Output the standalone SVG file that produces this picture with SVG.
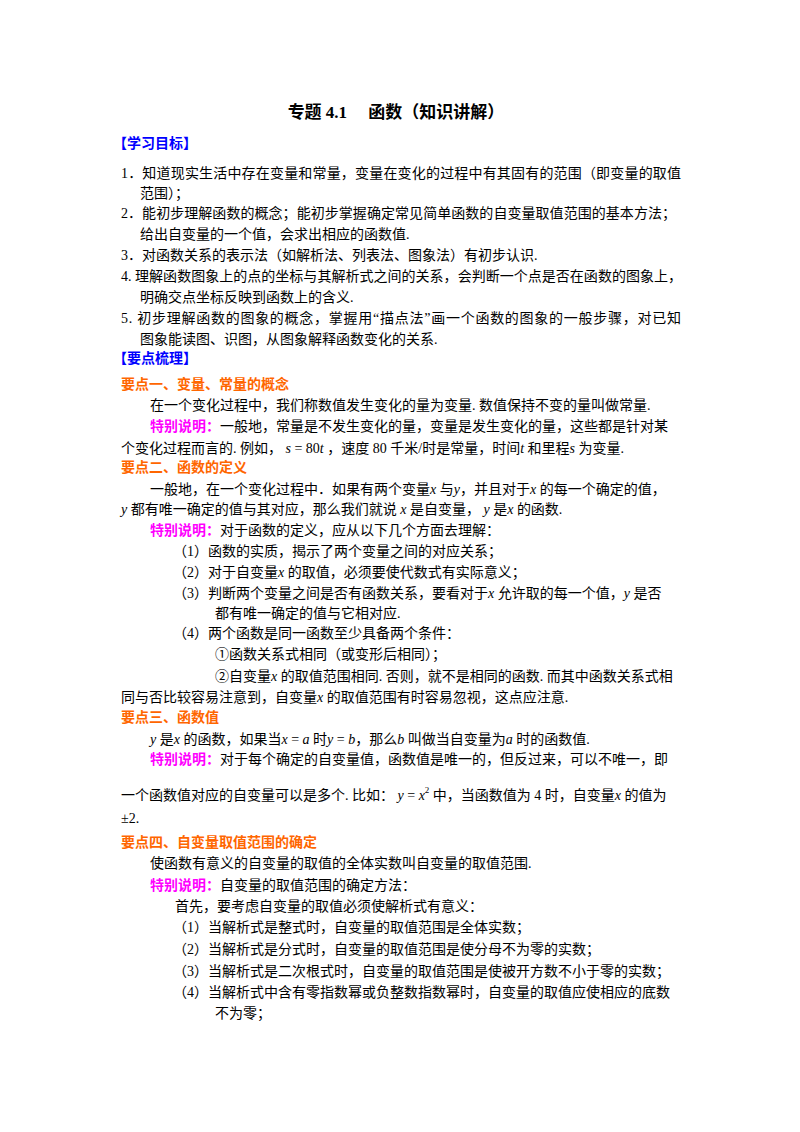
<svg xmlns="http://www.w3.org/2000/svg" width="800" height="1132" viewBox="0 0 800 1132">
<style>
text{font-family:"Liberation Serif","Noto Sans CJK SC",serif;font-size:14px;fill:#000}
.t{font-size:17px;font-weight:bold}
.b{fill:#0000FF;font-weight:bold}
.o{fill:#FF6600;font-weight:bold}
.m{fill:#FF00FF;font-weight:bold}
.i{font-style:italic;font-family:"Liberation Serif",serif}
</style>
<rect width="800" height="1132" fill="#fff"/>
<text class="t" x="396" y="118" text-anchor="middle">专题 4.1　 函数（知识讲解）</text>
<text class="b" x="113" y="148">【学习目标】</text>
<text x="121" y="178" textLength="560">1．知道现实生活中存在变量和常量，变量在变化的过程中有其固有的范围（即变量的取值</text>
<text x="140" y="198">范围）；</text>
<text x="121" y="218" textLength="555">2．能初步理解函数的概念；能初步掌握确定常见简单函数的自变量取值范围的基本方法；</text>
<text x="140" y="239">给出自变量的一个值，会求出相应的函数值.</text>
<text x="121" y="260">3．对函数关系的表示法（如解析法、列表法、图象法）有初步认识.</text>
<text x="121" y="281" textLength="561">4.  理解函数图象上的点的坐标与其解析式之间的关系，会判断一个点是否在函数的图象上，</text>
<text x="140" y="302">明确交点坐标反映到函数上的含义.</text>
<text x="121" y="323" textLength="560">5.  初步理解函数的图象的概念，掌握用“描点法”画一个函数的图象的一般步骤，对已知</text>
<text x="140" y="344">图象能读图、识图，从图象解释函数变化的关系.</text>
<text class="b" x="113" y="363">【要点梳理】</text>
<text class="o" x="121" y="389">要点一、变量、常量的概念</text>
<text x="150" y="410">在一个变化过程中，我们称数值发生变化的量为变量. 数值保持不变的量叫做常量.</text>
<text x="150" y="431"><tspan class="m">特别说明：</tspan>一般地，常量是不发生变化的量，变量是发生变化的量，这些都是针对某</text>
<text x="121" y="453">个变化过程而言的. 例如， <tspan class="i">s</tspan> = 80<tspan class="i">t</tspan> ，速度 80 千米/时是常量，时间<tspan class="i">t</tspan> 和里程<tspan class="i">s</tspan> 为变量.</text>
<text class="o" x="121" y="472">要点二、函数的定义</text>
<text x="150" y="494">一般地，在一个变化过程中．如果有两个变量<tspan class="i">x</tspan> 与<tspan class="i">y</tspan>，并且对于<tspan class="i">x</tspan> 的每一个确定的值，</text>
<text x="121" y="514"><tspan class="i">y</tspan> 都有唯一确定的值与其对应，那么我们就说 <tspan class="i">x</tspan> 是自变量， <tspan class="i">y</tspan> 是<tspan class="i">x</tspan> 的函数.</text>
<text x="150" y="535"><tspan class="m">特别说明：</tspan>对于函数的定义，应从以下几个方面去理解：</text>
<text x="173" y="556">（1）函数的实质，揭示了两个变量之间的对应关系；</text>
<text x="173" y="577">（2）对于自变量<tspan class="i">x</tspan> 的取值，必须要使代数式有实际意义；</text>
<text x="173" y="598">（3）判断两个变量之间是否有函数关系，要看对于<tspan class="i">x</tspan> 允许取的每一个值，<tspan class="i">y</tspan> 是否</text>
<text x="215" y="618">都有唯一确定的值与它相对应.</text>
<text x="173" y="638">（4）两个函数是同一函数至少具备两个条件：</text>
<text x="215" y="659">①函数关系式相同（或变形后相同）；</text>
<text x="215" y="681">②自变量<tspan class="i">x</tspan> 的取值范围相同. 否则，就不是相同的函数. 而其中函数关系式相</text>
<text x="121" y="702">同与否比较容易注意到，自变量<tspan class="i">x</tspan> 的取值范围有时容易忽视，这点应注意.</text>
<text class="o" x="121" y="722">要点三、函数值</text>
<text x="150" y="744"><tspan class="i">y</tspan> 是<tspan class="i">x</tspan> 的函数，如果当<tspan class="i">x</tspan> = <tspan class="i">a</tspan> 时<tspan class="i">y</tspan> = <tspan class="i">b</tspan>，那么<tspan class="i">b</tspan> 叫做当自变量为<tspan class="i">a</tspan> 时的函数值.</text>
<text x="150" y="764"><tspan class="m">特别说明：</tspan>对于每个确定的自变量值，函数值是唯一的，但反过来，可以不唯一，即</text>
<text x="121" y="800">一个函数值对应的自变量可以是多个. 比如： <tspan class="i">y</tspan> = <tspan class="i">x</tspan><tspan font-size="9" dy="-7">2</tspan><tspan dy="7"> 中，当函数值为 4 时，自变量</tspan><tspan class="i">x</tspan> 的值为</text>
<text x="121" y="823">±2.</text>
<text class="o" x="121" y="847">要点四、自变量取值范围的确定</text>
<text x="150" y="868">使函数有意义的自变量的取值的全体实数叫自变量的取值范围.</text>
<text x="150" y="890"><tspan class="m">特别说明：</tspan>自变量的取值范围的确定方法：</text>
<text x="175" y="911">首先，要考虑自变量的取值必须使解析式有意义：</text>
<text x="173" y="932">（1）当解析式是整式时，自变量的取值范围是全体实数；</text>
<text x="173" y="954">（2）当解析式是分式时，自变量的取值范围是使分母不为零的实数；</text>
<text x="173" y="976">（3）当解析式是二次根式时，自变量的取值范围是使被开方数不小于零的实数；</text>
<text x="173" y="997">（4）当解析式中含有零指数幂或负整数指数幂时，自变量的取值应使相应的底数</text>
<text x="215" y="1018">不为零；</text>
</svg>
